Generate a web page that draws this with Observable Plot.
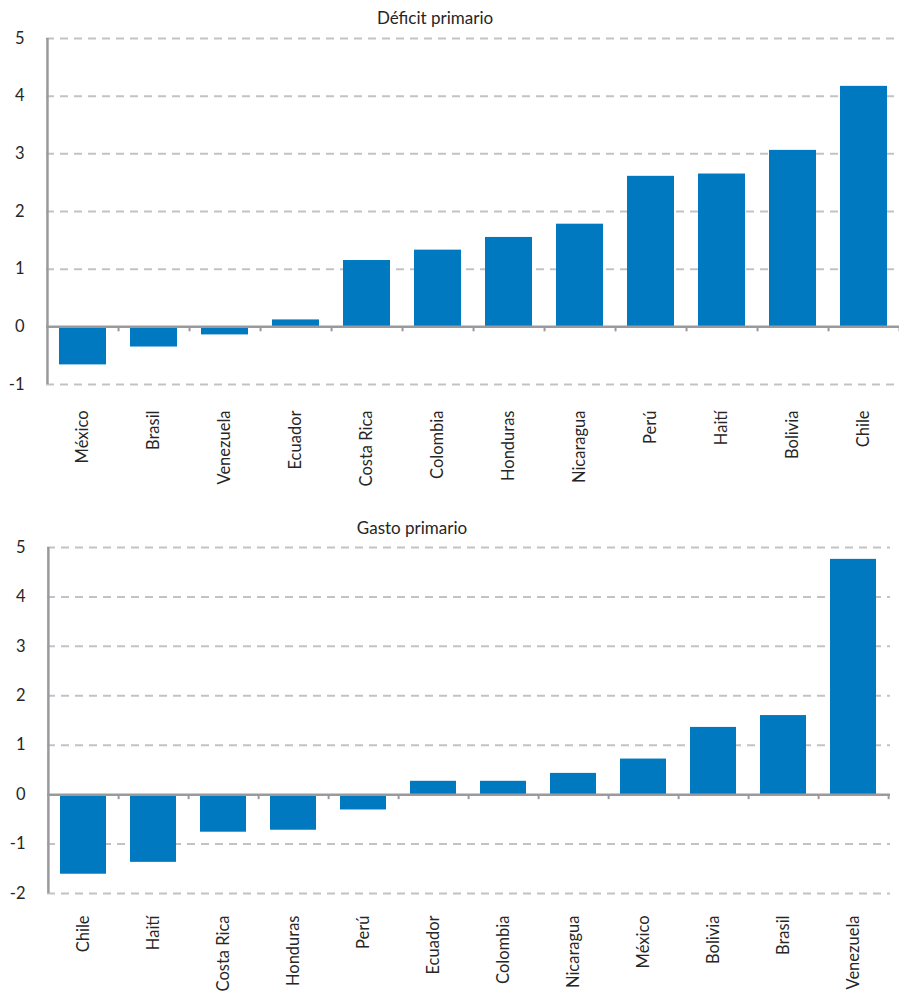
<!DOCTYPE html>
<html>
<head>
<meta charset="utf-8">
<script src="https://cdn.jsdelivr.net/npm/d3@7"></script>
<script src="https://cdn.jsdelivr.net/npm/@observablehq/plot@0.6"></script>
<style>
  body { margin: 0; background: #fff; }
  #wrap { position: relative; width: 899px; height: 993px; overflow: hidden; font-family: Lato, "Noto Sans", sans-serif; }
  .panel { position: absolute; left: 0; }
  .title { position: absolute; font-size: 17px; color: #262626; transform: translate(-50%, -50%); white-space: nowrap; }
</style>
</head>
<body>
<div id="wrap"></div>
<script>
// Primary deficit by country (percentage points)
const deficitCountries = ["México", "Brasil", "Venezuela", "Ecuador", "Costa Rica", "Colombia", "Honduras", "Nicaragua", "Perú", "Haití", "Bolivia", "Chile"];
const deficitValues = [-0.66, -0.35, -0.14, 0.12, 1.15, 1.33, 1.55, 1.78, 2.61, 2.65, 3.06, 4.17];
const deficitTicks = [-1, 0, 1, 2, 3, 4, 5];

// Primary spending by country (percentage points)
const spendingCountries = ["Chile", "Haití", "Costa Rica", "Honduras", "Perú", "Ecuador", "Colombia", "Nicaragua", "México", "Bolivia", "Brasil", "Venezuela"];
const spendingValues = [-1.61, -1.37, -0.76, -0.72, -0.31, 0.27, 0.27, 0.43, 0.72, 1.36, 1.60, 4.76];
const spendingTicks = [-2, -1, 0, 1, 2, 3, 4, 5];

const BAR = "#0079c1";
const GRID = "#c3c3c6";
const AXIS = "#9a9a9e";
const TEXT = "#262626";

function panel({countries, values, ticks, title, top, height, mt, mb, ml, mr, titleX, titleY, labelPad}) {
  const width = 899;
  const data = countries.map((c, i) => ({country: c, value: values[i]}));
  const yMin = d3.min(ticks), yMax = d3.max(ticks);
  const step = (width - ml - mr) / countries.length;
  const pxPerUnit = (height - mt - mb) / (yMax - yMin);
  const tickLen = 5;

  const chart = Plot.plot({
    width, height,
    marginTop: mt, marginBottom: mb, marginLeft: ml, marginRight: mr,
    style: {fontFamily: "Lato, 'Noto Sans', sans-serif", fontSize: "16px", color: TEXT, background: "transparent"},
    x: {domain: countries, paddingInner: 0.34, paddingOuter: 0.17},
    y: {domain: [yMin, yMax]},
    marks: [
      Plot.ruleY(ticks.filter(t => t !== 0), {stroke: GRID, strokeWidth: 2, strokeDasharray: "8,6"}),
      Plot.barY(data, {x: "country", y: "value", fill: BAR}),
      Plot.ruleY([0], {stroke: AXIS, strokeWidth: 2.5}),
      // category separators hanging below the zero line
      Plot.ruleX(countries, {x: d => d, dx: step / 2, y1: 0, y2: -tickLen / pxPerUnit, stroke: AXIS, strokeWidth: 2}),
      // vertical value axis line
      Plot.ruleX([countries[0]], {x: d => d, dx: -step / 2, y1: yMin, y2: yMax, stroke: AXIS, strokeWidth: 2.5}),
      Plot.axisY(ticks, {tickSize: 0, tickPadding: 22, tickFormat: d => String(d), fill: TEXT, fontSize: 16.5, label: null}),
      Plot.axisX({tickSize: 0, tickPadding: labelPad, tickRotate: -90, fill: TEXT, fontSize: 16.5, label: null})
    ]
  });

  const box = document.createElement("div");
  box.className = "panel";
  box.style.top = top + "px";
  box.appendChild(chart);
  const t = document.createElement("div");
  t.className = "title";
  t.textContent = title;
  t.style.left = titleX + "px";
  t.style.top = titleY + "px";
  document.getElementById("wrap").append(box, t);
}

panel({countries: deficitCountries, values: deficitValues, ticks: deficitTicks, title: "Déficit primario",
  top: 0, height: 500, mt: 38, mb: 116, ml: 46, mr: 0, titleX: 435, titleY: 17, labelPad: 26});

panel({countries: spendingCountries, values: spendingValues, ticks: spendingTicks, title: "Gasto primario",
  top: 500, height: 493, mt: 47, mb: 100, ml: 47, mr: 9, titleX: 412, titleY: 527, labelPad: 22});
</script>
</body>
</html>
